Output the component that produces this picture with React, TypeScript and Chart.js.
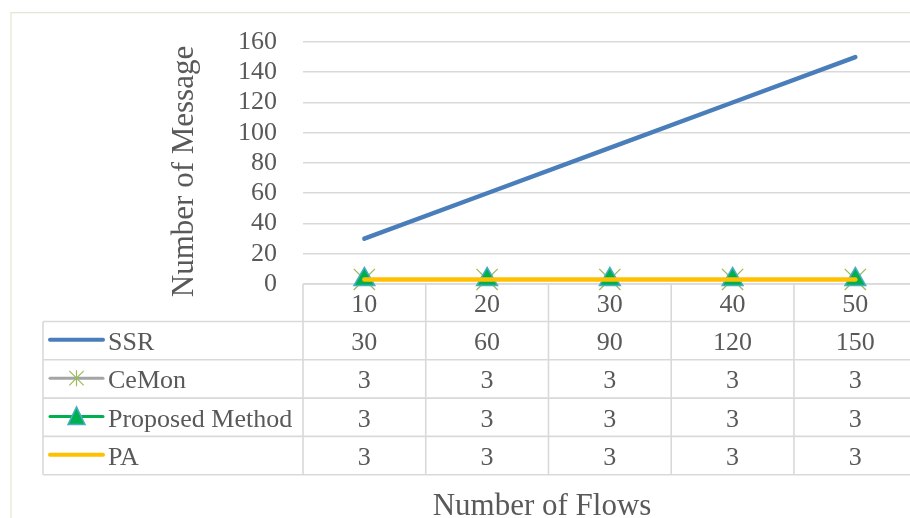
import React, { useEffect, useRef } from "react";
import { Chart, registerables } from "chart.js";

Chart.register(...registerables);

// ---- data ----
const categories = ["10", "20", "30", "40", "50"];
const seriesNames = ["SSR", "CeMon", "Proposed Method", "PA"];
const ssrValues = [30, 60, 90, 120, 150];
const ceMonValues = [3, 3, 3, 3, 3];
const proposedValues = [3, 3, 3, 3, 3];
const paValues = [3, 3, 3, 3, 3];
const yMin = 0;
const yMax = 160;
const yStep = 20;
const xTitle = "Number of Flows";
const yTitle = "Number of Message";

const seriesValues = [ssrValues, ceMonValues, proposedValues, paValues];

const FONT = '"Liberation Serif", "Times New Roman", serif';
const TEXT = "#595959";
const GRID = "#d9d9d9";
const C_SSR = "#4a7ebb";
const C_CEMON = "#a5a5a5";
const C_STAR = "#9bbb59";
const C_PROP = "#00b050";
const C_TRI_BORDER = "#4bacc6";
const C_PA = "#ffc000";

function drawLegendSymbol(ctx: CanvasRenderingContext2D, idx: number, x0: number, x1: number, cy: number) {
  const mx = (x0 + x1) / 2;
  ctx.save();
  ctx.lineCap = "round";
  if (idx === 0 || idx === 3) {
    ctx.strokeStyle = idx === 0 ? C_SSR : C_PA;
    ctx.lineWidth = 4;
    ctx.beginPath();
    ctx.moveTo(x0, cy);
    ctx.lineTo(x1, cy);
    ctx.stroke();
  } else if (idx === 1) {
    ctx.strokeStyle = C_CEMON;
    ctx.lineWidth = 3;
    ctx.beginPath();
    ctx.moveTo(x0, cy);
    ctx.lineTo(x1, cy);
    ctx.stroke();
    ctx.strokeStyle = C_STAR;
    ctx.lineWidth = 1.2;
    ctx.lineCap = "butt";
    const r = 8;
    ctx.beginPath();
    ctx.moveTo(mx - r * 0.9, cy - r * 0.9);
    ctx.lineTo(mx + r * 0.9, cy + r * 0.9);
    ctx.moveTo(mx + r * 0.9, cy - r * 0.9);
    ctx.lineTo(mx - r * 0.9, cy + r * 0.9);
    ctx.moveTo(mx, cy - r);
    ctx.lineTo(mx, cy + r);
    ctx.stroke();
  } else {
    ctx.strokeStyle = C_PROP;
    ctx.lineWidth = 3;
    ctx.beginPath();
    ctx.moveTo(x0, cy);
    ctx.lineTo(x1, cy);
    ctx.stroke();
    ctx.fillStyle = C_PROP;
    ctx.strokeStyle = C_TRI_BORDER;
    ctx.lineWidth = 1.5;
    ctx.lineJoin = "miter";
    ctx.beginPath();
    ctx.moveTo(mx, cy - 9.5);
    ctx.lineTo(mx + 8.5, cy + 8);
    ctx.lineTo(mx - 8.5, cy + 8);
    ctx.closePath();
    ctx.fill();
    ctx.stroke();
  }
  ctx.restore();
}

const tablePlugin = {
  id: "excelTable",
  beforeDraw(chart: any) {
    const ctx: CanvasRenderingContext2D = chart.ctx;
    ctx.save();
    ctx.fillStyle = "#ffffff";
    ctx.fillRect(0, 0, chart.width, chart.height);
    ctx.strokeStyle = "#e6e4d2";
    ctx.lineWidth = 1.2;
    ctx.beginPath();
    ctx.moveTo(11, chart.height);
    ctx.lineTo(11, 12.7);
    ctx.lineTo(chart.width, 12.7);
    ctx.stroke();
    ctx.restore();
  },
  beforeDatasetsDraw(chart: any) {
    const ctx: CanvasRenderingContext2D = chart.ctx;
    const area = chart.chartArea;
    const xs = chart.scales.x;
    const n = categories.length;
    const colW = (area.right - area.left) / n;
    const top = area.bottom;
    const headerH = 37.5;
    const rowH = 38.3;
    const legendLeft = 43;
    const bottom = top + headerH + rowH * seriesNames.length;

    ctx.save();
    ctx.strokeStyle = GRID;
    ctx.lineWidth = 1.6;
    ctx.beginPath();
    ctx.moveTo(area.left, top);
    ctx.lineTo(area.right, top);
    for (let r = 0; r <= seriesNames.length; r++) {
      const y = top + headerH + r * rowH;
      ctx.moveTo(legendLeft, y);
      ctx.lineTo(area.right, y);
    }
    ctx.moveTo(legendLeft, top + headerH);
    ctx.lineTo(legendLeft, bottom);
    for (let c = 0; c <= n; c++) {
      const x = area.left + c * colW;
      ctx.moveTo(x, top);
      ctx.lineTo(x, bottom);
    }
    ctx.stroke();

    ctx.fillStyle = TEXT;
    ctx.font = `26px ${FONT}`;
    ctx.textBaseline = "alphabetic";
    ctx.textAlign = "center";
    for (let c = 0; c < n; c++) {
      const cx = xs.getPixelForValue(c);
      ctx.fillText(categories[c], cx, top + headerH / 2 + 9.4);
    }
    for (let r = 0; r < seriesNames.length; r++) {
      const cy = top + headerH + r * rowH + rowH / 2;
      ctx.textAlign = "center";
      for (let c = 0; c < n; c++) {
        const cx = xs.getPixelForValue(c);
        ctx.fillText(String(seriesValues[r][c]), cx, cy + 9.4);
      }
      drawLegendSymbol(ctx, r, 50, 103, cy - 0.8);
      ctx.fillStyle = TEXT;
      ctx.font = `26px ${FONT}`;
      ctx.textAlign = "left";
      ctx.fillText(seriesNames[r], 108, cy + 9.4);
    }
    ctx.restore();
  },
  afterDraw(chart: any) {
    const ctx: CanvasRenderingContext2D = chart.ctx;
    ctx.save();
    ctx.fillStyle = TEXT;
    ctx.font = `31px ${FONT}`;
    ctx.textAlign = "center";
    ctx.textBaseline = "alphabetic";
    ctx.fillText(xTitle, 542, 515);
    ctx.translate(192.5, 171.5);
    ctx.rotate(-Math.PI / 2);
    ctx.fillText(yTitle, 0, 0);
    ctx.restore();
  },
};

export default function App() {
  const canvasRef = useRef<HTMLCanvasElement | null>(null);

  useEffect(() => {
    if (!canvasRef.current) return;
    const chart = new Chart(canvasRef.current, {
      type: "line",
      data: {
        labels: categories,
        datasets: [
          {
            label: seriesNames[0],
            data: ssrValues,
            borderColor: C_SSR,
            backgroundColor: C_SSR,
            borderWidth: 4.5,
            borderCapStyle: "round",
            pointRadius: 0,
            tension: 0,
            order: 3,
            clip: false,
          },
          {
            label: seriesNames[1],
            data: ceMonValues,
            borderColor: C_CEMON,
            backgroundColor: C_CEMON,
            borderWidth: 3,
            pointStyle: "crossRot",
            pointRadius: 15,
            pointBorderColor: C_STAR,
            pointBorderWidth: 1.3,
            tension: 0,
            order: 2,
            clip: false,
          },
          {
            label: seriesNames[2],
            data: proposedValues,
            borderColor: C_PROP,
            backgroundColor: C_PROP,
            borderWidth: 3,
            pointStyle: "triangle",
            pointRadius: 12,
            pointBackgroundColor: C_PROP,
            pointBorderColor: C_TRI_BORDER,
            pointBorderWidth: 1.5,
            tension: 0,
            order: 1,
            clip: false,
          },
          {
            label: seriesNames[3],
            data: paValues,
            borderColor: C_PA,
            backgroundColor: C_PA,
            borderWidth: 4.5,
            borderCapStyle: "round",
            pointRadius: 0,
            tension: 0,
            order: 0,
            clip: false,
          },
        ],
      } as any,
      options: {
        responsive: false,
        maintainAspectRatio: false,
        animation: false,
        devicePixelRatio: 1,
        layout: { padding: { left: 0, top: 42, right: 0, bottom: 234 } },
        plugins: {
          legend: { display: false },
          tooltip: { enabled: false },
        },
        events: [],
        scales: {
          x: {
            type: "category",
            display: false,
            offset: true,
          },
          y: {
            min: yMin,
            max: yMax,
            border: { display: false },
            grid: { color: GRID, lineWidth: 1.6, drawTicks: false },
            ticks: {
              stepSize: yStep,
              autoSkip: false,
              padding: 26,
              color: TEXT,
              font: { family: FONT, size: 26 },
            },
            afterFit: (scale: any) => {
              scale.width = 303;
            },
          },
        },
      } as any,
      plugins: [tablePlugin],
    });
    return () => chart.destroy();
  }, []);

  return (
    <div
      style={{
        position: "fixed",
        left: 0,
        top: 0,
        width: 910,
        height: 518,
        overflow: "hidden",
        background: "#ffffff",
      }}
    >
      <canvas ref={canvasRef} width={933} height={518} style={{ display: "block" }} />
    </div>
  );
}
